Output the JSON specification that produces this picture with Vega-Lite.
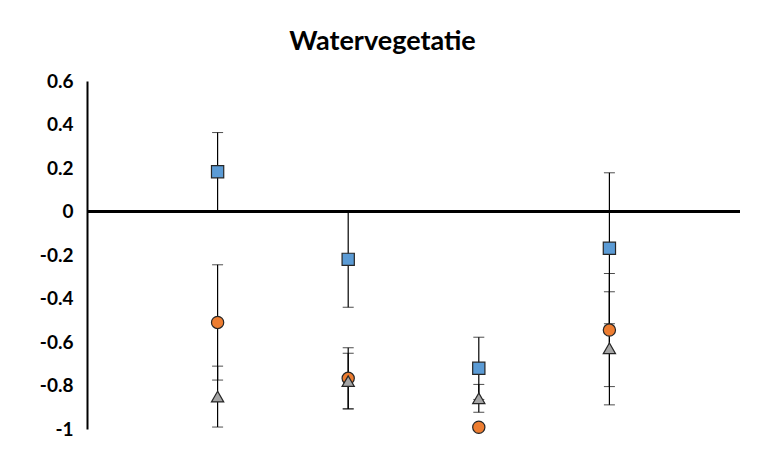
{
  "$schema": "https://vega.github.io/schema/vega-lite/v6.json",
  "width": 653,
  "height": 348,
  "autosize": {"type": "none"},
  "padding": {"left": 87, "top": 81, "right": 23, "bottom": 47},
  "background": "white",
  "title": {
    "text": "Watervegetatie",
    "font": "Lato",
    "fontSize": 27,
    "fontWeight": "bold",
    "color": "#000000",
    "anchor": "middle",
    "dx": -31,
    "offset": 16
  },
  "config": {
    "view": {"stroke": null},
    "axis": {"grid": false, "ticks": false}
  },
  "data": {
    "values": [
      {"cat": 1, "serie": "Reeks 1", "value": 0.183, "err": 0.18},
      {"cat": 1, "serie": "Reeks 2", "value": -0.51, "err": 0.265},
      {"cat": 1, "serie": "Reeks 3", "value": -0.851, "err": 0.14},
      {"cat": 2, "serie": "Reeks 1", "value": -0.22, "err": 0.22},
      {"cat": 2, "serie": "Reeks 2", "value": -0.767, "err": 0.14},
      {"cat": 2, "serie": "Reeks 3", "value": -0.78, "err": 0.128},
      {"cat": 3, "serie": "Reeks 1", "value": -0.721, "err": 0.143},
      {"cat": 3, "serie": "Reeks 2", "value": -0.992, "err": 0},
      {"cat": 3, "serie": "Reeks 3", "value": -0.859, "err": 0.064},
      {"cat": 4, "serie": "Reeks 1", "value": -0.169, "err": 0.347},
      {"cat": 4, "serie": "Reeks 2", "value": -0.545, "err": 0.26},
      {"cat": 4, "serie": "Reeks 3", "value": -0.629, "err": 0.26}
    ]
  },
  "layer": [
    {
      "mark": {
        "type": "errorbar",
        "ticks": {"size": 11, "color": "black", "strokeWidth": 1.2},
        "rule": {"color": "black", "strokeWidth": 1.2}
      },
      "encoding": {
        "x": {"field": "cat", "type": "quantitative", "scale": {"domain": [0, 5]}, "axis": null},
        "y": {"field": "value", "type": "quantitative"},
        "yError": {"field": "err"}
      }
    },
    {
      "mark": {"type": "rule", "color": "black", "strokeWidth": 2.5},
      "encoding": {"y": {"datum": 0, "type": "quantitative"}}
    },
    {
      "mark": {"type": "point", "filled": true, "size": 150, "stroke": "#262626", "strokeWidth": 1.2, "opacity": 1},
      "encoding": {
        "x": {"field": "cat", "type": "quantitative", "scale": {"domain": [0, 5]}, "axis": null},
        "y": {
          "field": "value",
          "type": "quantitative",
          "scale": {"domain": [-1, 0.6], "nice": false, "zero": false},
          "axis": {
            "title": null,
            "values": [0.6, 0.4, 0.2, 0, -0.2, -0.4, -0.6, -0.8, -1],
            "labelExpr": "datum.value < 0 ? '-' + format(-datum.value, '~g') : format(datum.value, '~g')",
            "labelFont": "Lato",
            "labelFontSize": 19,
            "labelFontWeight": "bold",
            "labelColor": "#000000",
            "labelPadding": 14,
            "domainColor": "#000000",
            "domainWidth": 2
          }
        },
        "shape": {
          "field": "serie",
          "type": "nominal",
          "scale": {"domain": ["Reeks 1", "Reeks 2", "Reeks 3"], "range": ["square", "circle", "triangle-up"]},
          "legend": null
        },
        "fill": {
          "field": "serie",
          "type": "nominal",
          "scale": {"domain": ["Reeks 1", "Reeks 2", "Reeks 3"], "range": ["#5B9BD5", "#ED7D31", "#A5A5A5"]},
          "legend": null
        },
        "order": {"field": "serie"}
      }
    }
  ]
}
